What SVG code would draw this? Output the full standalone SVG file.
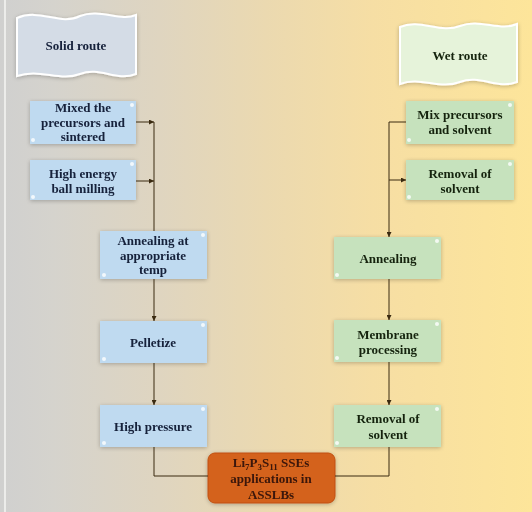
<svg xmlns="http://www.w3.org/2000/svg" width="532" height="512" viewBox="0 0 532 512">
<defs>
<linearGradient id="bg" x1="0" y1="0" x2="1" y2="0">
<stop offset="0" stop-color="#d0d0cf"/>
<stop offset="0.1" stop-color="#d5d3cd"/>
<stop offset="0.3" stop-color="#dfd5c0"/>
<stop offset="0.5" stop-color="#ebd9b0"/>
<stop offset="0.7" stop-color="#f6dea4"/>
<stop offset="1" stop-color="#fde59a"/>
</linearGradient>
<filter id="glow" x="-10%" y="-15%" width="120%" height="130%">
<feGaussianBlur in="SourceAlpha" stdDeviation="2"/>
<feOffset dx="0" dy="1"/>
<feComponentTransfer><feFuncA type="linear" slope="0.25"/></feComponentTransfer>
<feMerge><feMergeNode/><feMergeNode in="SourceGraphic"/></feMerge>
</filter>
<marker id="ah" viewBox="0 0 6 6" refX="6" refY="3" markerWidth="5" markerHeight="5" orient="auto">
<path d="M0,0 L6,3 L0,6 z" fill="#3a2a10"/>
</marker>
</defs>
<style>
.t{font-family:"Liberation Serif","Times New Roman",serif;font-weight:bold;font-size:13px;text-anchor:middle}
.tb{fill:#15203a}
.tg{fill:#14240e}
.blue{fill:#bfdaf0}
.green{fill:#c6e2bd}
.dot{fill:#ffffff;opacity:0.8}
.c{fill:none;stroke:#3a2a10;stroke-width:1}
</style>
<rect x="0" y="0" width="532" height="512" fill="url(#bg)"/>
<rect x="4" y="0" width="2" height="512" fill="#ececea"/>

<g id="solid-route" filter="url(#glow)">
<path d="M17,18 C40,8 60,26 80,16 C100,8 120,22 136,15 L136,74 C116,82 100,66 80,74 C60,82 40,68 17,76 Z" fill="#d4dce6" stroke="#ffffff" stroke-width="2"/>
<text class="t tb" x="76" y="50">Solid route</text>
</g>
<g id="wet-route" filter="url(#glow)">
<path d="M400,27 C420,18 440,34 460,26 C480,18 500,32 517,24 L517,82 C497,90 480,74 460,82 C440,90 420,76 400,84 Z" fill="#e6f3da" stroke="#ffffff" stroke-width="2"/>
<text class="t tg" x="460" y="60">Wet route</text>
</g>

<g id="s1" filter="url(#glow)">
<rect class="blue" x="30" y="101" width="106" height="43"/>
<circle class="dot" cx="132" cy="105" r="2"/><circle class="dot" cx="33" cy="140" r="2"/>
<text class="t tb" x="83" y="112">Mixed the</text>
<text class="t tb" x="83" y="126.5">precursors and</text>
<text class="t tb" x="83" y="141">sintered</text>
</g>
<g id="s2" filter="url(#glow)">
<rect class="blue" x="30" y="160" width="106" height="40"/>
<circle class="dot" cx="132" cy="164" r="2"/><circle class="dot" cx="33" cy="197" r="2"/>
<text class="t tb" x="83" y="178">High energy</text>
<text class="t tb" x="83" y="193">ball milling</text>
</g>
<g id="s3" filter="url(#glow)">
<rect class="blue" x="100" y="231" width="107" height="48"/>
<circle class="dot" cx="203" cy="235" r="2"/><circle class="dot" cx="104" cy="275" r="2"/>
<text class="t tb" x="153" y="245">Annealing at</text>
<text class="t tb" x="153" y="259.5">appropriate</text>
<text class="t tb" x="153" y="274">temp</text>
</g>
<g id="s4" filter="url(#glow)">
<rect class="blue" x="100" y="321" width="107" height="42"/>
<circle class="dot" cx="203" cy="325" r="2"/><circle class="dot" cx="104" cy="359" r="2"/>
<text class="t tb" x="153" y="347">Pelletize</text>
</g>
<g id="s5" filter="url(#glow)">
<rect class="blue" x="100" y="405" width="107" height="42"/>
<circle class="dot" cx="203" cy="409" r="2"/><circle class="dot" cx="104" cy="443" r="2"/>
<text class="t tb" x="153" y="431">High pressure</text>
</g>

<g id="w1" filter="url(#glow)">
<rect class="green" x="406" y="101" width="108" height="43"/>
<circle class="dot" cx="510" cy="105" r="2"/><circle class="dot" cx="409" cy="140" r="2"/>
<text class="t tg" x="460" y="119">Mix precursors</text>
<text class="t tg" x="460" y="134">and solvent</text>
</g>
<g id="w2" filter="url(#glow)">
<rect class="green" x="406" y="160" width="108" height="40"/>
<circle class="dot" cx="510" cy="164" r="2"/><circle class="dot" cx="409" cy="197" r="2"/>
<text class="t tg" x="460" y="178">Removal of</text>
<text class="t tg" x="460" y="193">solvent</text>
</g>
<g id="w3" filter="url(#glow)">
<rect class="green" x="334" y="237" width="107" height="42"/>
<circle class="dot" cx="437" cy="241" r="2"/><circle class="dot" cx="337" cy="275" r="2"/>
<text class="t tg" x="388" y="263">Annealing</text>
</g>
<g id="w4" filter="url(#glow)">
<rect class="green" x="334" y="320" width="107" height="42"/>
<circle class="dot" cx="437" cy="324" r="2"/><circle class="dot" cx="337" cy="358" r="2"/>
<text class="t tg" x="388" y="339">Membrane</text>
<text class="t tg" x="388" y="354">processing</text>
</g>
<g id="w5" filter="url(#glow)">
<rect class="green" x="334" y="405" width="107" height="42"/>
<circle class="dot" cx="437" cy="409" r="2"/><circle class="dot" cx="337" cy="443" r="2"/>
<text class="t tg" x="388" y="423">Removal of</text>
<text class="t tg" x="388" y="439">solvent</text>
</g>

<g id="result" filter="url(#glow)">
<rect x="208" y="453" width="127" height="50" rx="7" fill="#d4621a" stroke="#c05010" stroke-width="1"/>
<text class="t" x="271" y="467" fill="#3a1608">Li<tspan font-size="9" dy="3">7</tspan><tspan dy="-3">P</tspan><tspan font-size="9" dy="3">3</tspan><tspan dy="-3">S</tspan><tspan font-size="9" dy="3">11</tspan><tspan dy="-3"> SSEs</tspan></text>
<text class="t" x="271" y="483" fill="#3a1608">applications in</text>
<text class="t" x="271" y="499" fill="#3a1608">ASSLBs</text>
</g>

<g id="connectors">
<path class="c" d="M136,122 L154,122" marker-end="url(#ah)"/>
<path class="c" d="M136,181 L154,181" marker-end="url(#ah)"/>
<path class="c" d="M154,122 L154,231"/>
<path class="c" d="M154,279 L154,321" marker-end="url(#ah)"/>
<path class="c" d="M154,363 L154,405" marker-end="url(#ah)"/>
<path class="c" d="M154,447 L154,476 L208,476"/>
<path class="c" d="M406,122 L389,122 L389,237" marker-end="url(#ah)"/>
<path class="c" d="M389,180 L406,180" marker-end="url(#ah)"/>
<path class="c" d="M389,279 L389,320" marker-end="url(#ah)"/>
<path class="c" d="M389,362 L389,405" marker-end="url(#ah)"/>
<path class="c" d="M389,447 L389,476 L335,476"/>
</g>
</svg>
